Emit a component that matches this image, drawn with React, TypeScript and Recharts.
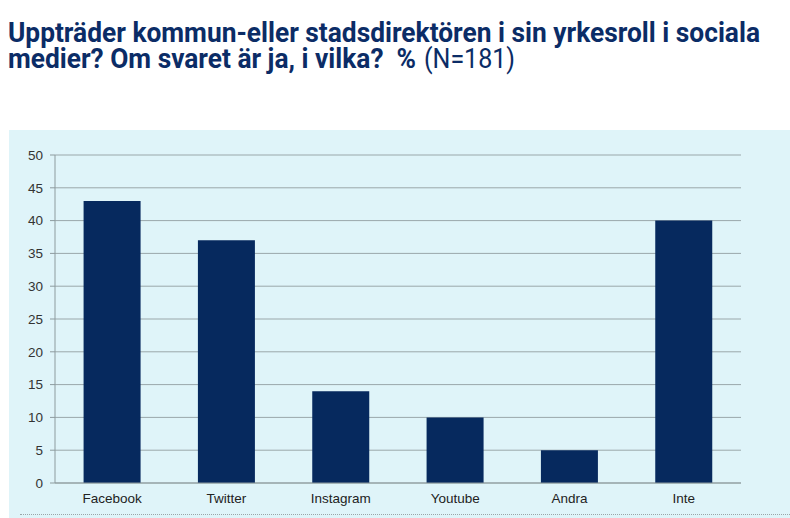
import React from "react";
import { BarChart, Bar, XAxis, YAxis, CartesianGrid } from "recharts";

const categories = ["Facebook", "Twitter", "Instagram", "Youtube", "Andra", "Inte"];
const values = [43, 37, 14, 10, 5, 40];
const yTicks = [0, 5, 10, 15, 20, 25, 30, 35, 40, 45, 50];
const boundaryTicks = [0, 1, 2, 3, 4, 5, 6];

const data = categories.map((name, i) => ({ name, value: values[i] }));

const NAVY = "#0b2c66";
const BAR = "#06295e";
const AXIS = "#8d9b9e";
const GRID = "#9aa7aa";

export default function App() {
  return (
    <div style={{ position: "absolute", left: 0, top: 0, width: 790, height: 518, background: "#ffffff", overflow: "hidden" }}>
      <svg width={790} height={90} style={{ position: "absolute", left: 0, top: 0 }}>
        <text x={8} y={42} fontFamily="Roboto" fontWeight={700} fontSize={28} fill={NAVY} textLength={752} lengthAdjust="spacingAndGlyphs">
          Uppträder kommun-eller stadsdirektören i sin yrkesroll i sociala
        </text>
        <text x={8} y={68} fontFamily="Roboto" fontWeight={700} fontSize={28} fill={NAVY} textLength={408} lengthAdjust="spacingAndGlyphs" style={{ whiteSpace: "pre" }}>
          {"medier? Om svaret är ja, i vilka?  %"}
        </text>
        <text x={424} y={68} fontFamily="Roboto" fontWeight={400} fontSize={28} fill={NAVY} textLength={91} lengthAdjust="spacingAndGlyphs">
          (N=181)
        </text>
      </svg>
      <div style={{ position: "absolute", left: 9, top: 130, width: 781, height: 388, background: "#dff4f9" }} />
      <div style={{ position: "absolute", left: 20, top: 514, width: 770, height: 0, borderTop: "1px dotted #9aa5a8" }} />
      <div style={{ position: "absolute", left: 0, top: 0 }}>
        <BarChart
          width={790}
          height={518}
          data={data}
          margin={{ top: 155, right: 49, bottom: 0, left: 0 }}
          barCategoryGap="25%"
        >
          <CartesianGrid vertical={false} stroke={GRID} strokeWidth={1} />
          <XAxis
            xAxisId="b"
            type="number"
            domain={[0, 6]}
            ticks={boundaryTicks}
            allowDataOverflow
            height={0}
            axisLine={false}
            tickLine={{ stroke: AXIS }}
            tickSize={5}
            tickFormatter={() => ""}
          />
          <XAxis
            dataKey="name"
            height={35}
            axisLine={{ stroke: AXIS }}
            tickLine={false}
            tickSize={5}
            tickMargin={5}
            tick={{ fill: "#222222", fontSize: 13.5, fontFamily: "Liberation Sans" }}
            interval={0}
          />
          <YAxis
            width={55}
            domain={[0, 50]}
            ticks={yTicks}
            interval={0}
            axisLine={{ stroke: AXIS }}
            tickLine={{ stroke: AXIS }}
            tickSize={5}
            tickMargin={7}
            tick={{ fill: "#333333", fontSize: 13.5, fontFamily: "Liberation Sans" }}
          />
          <Bar dataKey="value" fill={BAR} isAnimationActive={false} />
        </BarChart>
      </div>
    </div>
  );
}
